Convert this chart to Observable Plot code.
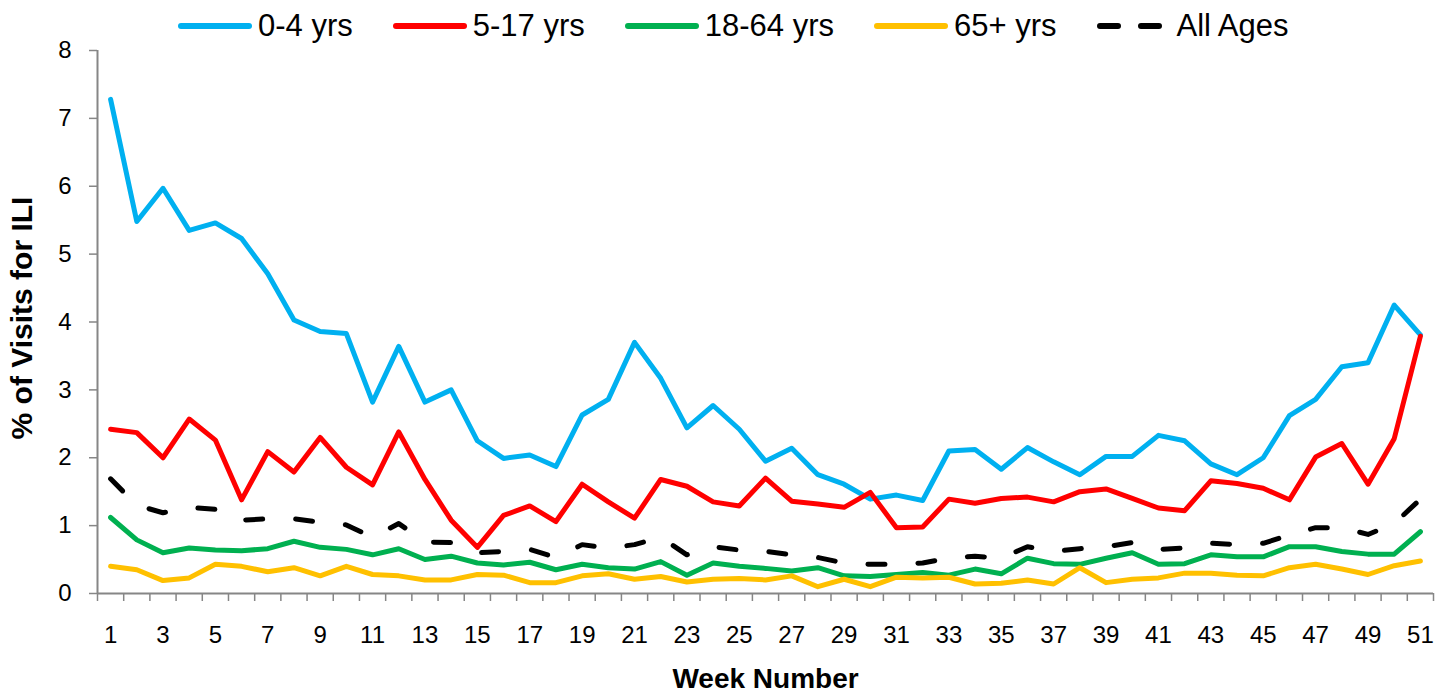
<!DOCTYPE html>
<html>
<head>
<meta charset="utf-8">
<script src="https://cdn.jsdelivr.net/npm/d3@7"></script>
<script src="https://cdn.jsdelivr.net/npm/@observablehq/plot@0.6"></script>
<style>
  html, body { margin: 0; padding: 0; background: #fff; }
  body { width: 1446px; height: 694px; overflow: hidden; font-family: Arial, "Liberation Sans", sans-serif; }
  #legend { height: 24px; line-height: 24px; padding-top: 6px; display: flex; align-items: center; padding-left: 178px; font-size: 31px; color: #000; }
  #legend .item { display: flex; align-items: center; margin-right: 40px; position: relative; top: 8px; }
  #legend svg { margin-right: 6px; }
</style>
</head>
<body>
<div id="legend"></div>
<div id="chart"></div>
<script>
const weeks = d3.range(1, 52);
const tickWeeks = d3.range(1, 52, 2);
const yTicks = d3.range(0, 9);

const age0_4 = [7.28,5.48,5.97,5.35,5.46,5.23,4.71,4.03,3.86,3.83,
  2.82,3.64,2.82,3.0,2.25,1.99,2.04,1.87,2.63,2.86,
  3.7,3.17,2.44,2.77,2.42,1.95,2.14,1.75,1.61,1.39,
  1.45,1.37,2.1,2.12,1.83,2.15,1.94,1.75,2.02,2.02,
  2.33,2.25,1.91,1.75,2.0,2.62,2.86,3.34,3.4,4.25,3.81];
const age5_17 = [2.42,2.37,2.0,2.57,2.26,1.38,2.09,1.79,2.3,1.86,
  1.6,2.38,1.68,1.08,0.68,1.15,1.29,1.06,1.61,1.35,
  1.11,1.68,1.58,1.35,1.29,1.7,1.36,1.32,1.27,1.49,
  0.97,0.98,1.39,1.33,1.4,1.42,1.35,1.5,1.54,1.4,
  1.26,1.22,1.66,1.62,1.55,1.38,2.01,2.21,1.61,2.28,3.79];
const age18_64 = [1.12,0.79,0.6,0.67,0.64,0.63,0.66,0.77,0.68,0.65,
  0.57,0.66,0.5,0.55,0.45,0.42,0.46,0.35,0.43,0.38,
  0.36,0.47,0.27,0.45,0.4,0.37,0.33,0.38,0.26,0.25,
  0.28,0.31,0.27,0.36,0.29,0.52,0.44,0.43,0.52,0.6,
  0.43,0.44,0.57,0.54,0.54,0.69,0.69,0.62,0.58,0.58,0.91];
const age65plus = [0.4,0.35,0.19,0.23,0.43,0.4,0.32,0.38,0.26,0.4,
  0.28,0.26,0.2,0.2,0.28,0.27,0.16,0.16,0.26,0.29,
  0.21,0.25,0.17,0.21,0.22,0.2,0.26,0.1,0.21,0.1,
  0.24,0.23,0.24,0.14,0.15,0.2,0.14,0.38,0.16,0.21,
  0.23,0.3,0.3,0.27,0.26,0.38,0.43,0.36,0.28,0.41,0.48];
const allAges = [1.69,1.3,1.19,1.27,1.24,1.08,1.1,1.1,1.05,1.01,
  0.83,1.03,0.76,0.75,0.6,0.62,0.65,0.53,0.72,0.67,
  0.72,0.83,0.57,0.69,0.64,0.62,0.57,0.53,0.45,0.43,
  0.43,0.45,0.52,0.55,0.52,0.69,0.62,0.66,0.69,0.75,
  0.65,0.67,0.74,0.72,0.74,0.86,0.97,0.97,0.87,1.03,1.39];

const seriesNames = ["0-4 yrs", "5-17 yrs", "18-64 yrs", "65+ yrs", "All Ages"];
const seriesValues = [age0_4, age5_17, age18_64, age65plus, allAges];
const seriesColors = ["#00B0F0", "#FF0000", "#00B050", "#FFC000", "#000000"];
const seriesDashed = [false, false, false, false, true];

const axisGray = "#868686";
const DASH = "17,33";

// Legend
const legend = document.getElementById("legend");
seriesNames.forEach((name, i) => {
  const item = document.createElement("div");
  item.className = "item";
  const dash = seriesDashed[i] ? `stroke-dasharray="18,23"` : "";
  item.innerHTML = `<svg width="74" height="12"><line x1="3" y1="6" x2="71" y2="6" stroke="${seriesColors[i]}" stroke-width="6" stroke-linecap="round" ${dash}/></svg><span>${name}</span>`;
  legend.appendChild(item);
});

const xDomain = [weeks[0] - 0.5, weeks[weeks.length - 1] + 0.5];
const boundaries = d3.range(xDomain[0], xDomain[1] + 0.01, 1);

const lineMarks = seriesNames.map((name, i) => {
  const rows = weeks.map((w, j) => ({week: w, value: seriesValues[i][j]}));
  return Plot.line(rows, {
    x: "week", y: "value",
    stroke: seriesColors[i], strokeWidth: 5,
    strokeLinejoin: "round", strokeLinecap: "round",
    strokeDasharray: seriesDashed[i] ? DASH : null
  });
});

const chart = Plot.plot({
  width: 1446,
  height: 664,
  marginTop: 20,
  marginBottom: 101,
  marginLeft: 97,
  marginRight: 13,
  style: {fontFamily: "Arial, 'Liberation Sans', sans-serif", background: "#fff", color: "#000"},
  x: {domain: xDomain, axis: null},
  y: {domain: [0, 8], axis: null},
  marks: [
    Plot.axisY(yTicks, {tickSize: 8, tickPadding: 18, fontSize: 24, stroke: axisGray, strokeWidth: 1.5, fill: "#000", tickFormat: "d", label: null}),
    Plot.axisX(boundaries, {tickSize: 8, tickFormat: () => "", stroke: axisGray, strokeWidth: 1.5, label: null}),
    Plot.axisX(tickWeeks, {tickSize: 0, tickPadding: 32, fontSize: 24, fill: "#000", tickFormat: "d", label: null}),
    Plot.ruleY([0], {stroke: axisGray, strokeWidth: 2}),
    Plot.ruleX([xDomain[0]], {stroke: axisGray, strokeWidth: 2}),
    ...lineMarks,
    Plot.text(["Week Number"], {frameAnchor: "bottom", dy: 86, fontSize: 28, fontWeight: "bold", lineAnchor: "middle", fill: "#000"}),
    Plot.text(["% of Visits for ILI"], {frameAnchor: "left", rotate: -90, dx: -75, dy: -4, fontSize: 30, fontWeight: "bold", lineAnchor: "middle", textAnchor: "middle", fill: "#000"})
  ]
});
document.getElementById("chart").appendChild(chart);
</script>
</body>
</html>
